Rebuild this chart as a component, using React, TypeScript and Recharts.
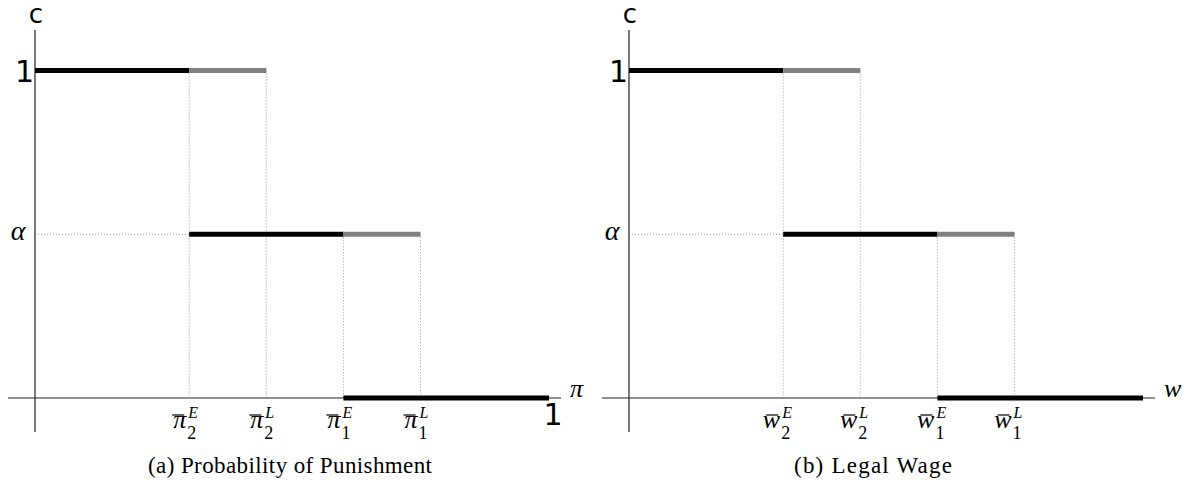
import React from 'react';
import { LineChart, Line, XAxis, YAxis, ReferenceLine } from 'recharts';

// Threshold positions on the horizontal axis, in order: x̄2^E, x̄2^L, x̄1^E, x̄1^L
const punishmentThresholds = [0.3, 0.45, 0.6, 0.75];
const wageThresholds = [0.3, 0.45, 0.6, 0.75];
const thresholdSubscripts = ['2', '2', '1', '1'];
const thresholdSuperscripts = ['E', 'L', 'E', 'L'];

// Levels of c
const cHigh = 1;
const alpha = 0.5;
const cLow = 0;
const xUnit = 1;
const yTickValues = [alpha, cHigh];
const yTickLabels = ['α', '1'];

// Visible extent of the axes around the origin
const X_DOMAIN: [number, number] = [-0.0525, 1.0233];
const Y_DOMAIN: [number, number] = [-0.1038, 1.1237];

const SERIF = "'Liberation Serif', 'DejaVu Serif', serif";
const SANS = "'DejaVu Sans', sans-serif";
const THICK = 5;
const BLACK = '#000000';
const GREY = '#808080';
const DOT = '#9a9a9a';

type Seg = { x0: number; x1: number; y: number };

function eagerSegments(t: number[]): Seg[] {
  return [
    { x0: 0, x1: t[0], y: cHigh },
    { x0: t[0], x1: t[2], y: alpha },
    { x0: t[2], x1: xUnit, y: cLow },
  ];
}

function lateSegments(t: number[]): Seg[] {
  return [
    { x0: t[0], x1: t[1], y: cHigh },
    { x0: t[2], x1: t[3], y: alpha },
  ];
}

function guideSegments(t: number[]) {
  return [
    [{ x: t[0], y: cHigh }, { x: t[0], y: cLow }],
    [{ x: t[1], y: cHigh }, { x: t[1], y: cLow }],
    [{ x: t[2], y: alpha }, { x: t[2], y: cLow }],
    [{ x: t[3], y: alpha }, { x: t[3], y: cLow }],
    [{ x: 0, y: alpha }, { x: t[0], y: alpha }],
  ];
}

function makeXTick(thresholds: number[], base: string, unitTick: boolean) {
  return (props: any) => {
    const { x, y, payload } = props;
    const i = thresholds.indexOf(payload.value);
    if (i < 0) {
      if (!unitTick) return <g />;
      return (
        <text x={x + 4} y={y - 7} textAnchor="middle" fontFamily={SANS} fontSize={30} fill="#000">
          1
        </text>
      );
    }
    return (
      <g>
        <text x={x - 3} y={y - 4} textAnchor="end" fontFamily={SERIF} fontStyle="italic" fontSize={26} fill="#000">
          {base}
        </text>
        <line x1={x - 17} x2={x - 5} y1={y - 17} y2={y - 17} stroke="#000" strokeWidth={1.2} />
        <text x={x - 2} y={y + 7} textAnchor="start" fontFamily={SERIF} fontSize={18} fill="#000">
          {thresholdSubscripts[i]}
        </text>
        <text x={x - 1} y={y - 14} textAnchor="start" fontFamily={SERIF} fontStyle="italic" fontSize={16} fill="#000">
          {thresholdSuperscripts[i]}
        </text>
      </g>
    );
  };
}

const YTick = (props: any) => {
  const { x, y, payload } = props;
  const i = yTickValues.indexOf(payload.value);
  if (i < 0) return <g />;
  if (yTickLabels[i] === '1') {
    return (
      <text x={x + 26} y={y + 11} textAnchor="end" fontFamily={SANS} fontSize={30} fill="#000">
        1
      </text>
    );
  }
  return (
    <text x={x + 10} y={y + 6} textAnchor="middle" fontFamily={SERIF} fontStyle="italic" fontSize={28} fill="#000">
      {yTickLabels[i]}
    </text>
  );
};

type PanelProps = {
  thresholds: number[];
  base: string;
  axisName: string;
  unitTick: boolean;
  left: number;
};

function Panel({ thresholds, base, axisName, unitTick, left }: PanelProps) {
  const black = eagerSegments(thresholds);
  const grey = lateSegments(thresholds);
  const guides = guideSegments(thresholds);
  const xTicks = unitTick ? [...thresholds, xUnit] : thresholds;
  const XTick = makeXTick(thresholds, base, unitTick);

  return (
    <div style={{ position: 'absolute', left, top: 0 }}>
      <LineChart width={590} height={495} margin={{ top: 30, right: 29, bottom: 33, left: 0 }}>
        <XAxis
          type="number"
          dataKey="x"
          domain={X_DOMAIN}
          allowDataOverflow
          ticks={xTicks}
          interval={0}
          height={30}
          axisLine={false}
          tickLine={false}
          tickSize={0}
          tickMargin={0}
          tick={XTick}
        />
        <YAxis
          type="number"
          dataKey="y"
          domain={Y_DOMAIN}
          allowDataOverflow
          ticks={yTickValues}
          interval={0}
          width={8}
          axisLine={false}
          tickLine={false}
          tickSize={0}
          tickMargin={0}
          tick={YTick}
        />
        {guides.map((seg, k) => (
          <ReferenceLine key={`g${k}`} segment={seg} stroke={DOT} strokeWidth={1} strokeDasharray="1 2" />
        ))}
        <ReferenceLine
          x={0}
          stroke="#222"
          strokeWidth={1.2}
          label={{
            content: (p: any) => (
              <text
                x={p.viewBox.x + 1}
                y={p.viewBox.y - 7}
                textAnchor="middle"
                fontFamily={SANS}
                fontSize={26}
                fill="#000"
              >
                c
              </text>
            ),
          }}
        />
        <ReferenceLine
          y={0}
          stroke="#222"
          strokeWidth={1.2}
          label={{
            content: (p: any) => (
              <text
                x={p.viewBox.x + p.viewBox.width + 9}
                y={p.viewBox.y - 1}
                textAnchor="start"
                fontFamily={SERIF}
                fontStyle="italic"
                fontSize={26}
                fill="#000"
              >
                {axisName}
              </text>
            ),
          }}
        />
        {black.map((s, k) => (
          <Line
            key={`b${k}`}
            data={[{ x: s.x0, y: s.y }, { x: s.x1, y: s.y }]}
            dataKey="y"
            stroke={BLACK}
            strokeWidth={THICK}
            dot={false}
            activeDot={false}
            isAnimationActive={false}
          />
        ))}
        {grey.map((s, k) => (
          <Line
            key={`l${k}`}
            data={[{ x: s.x0, y: s.y }, { x: s.x1, y: s.y }]}
            dataKey="y"
            stroke={GREY}
            strokeWidth={THICK}
            dot={false}
            activeDot={false}
            isAnimationActive={false}
          />
        ))}
      </LineChart>
    </div>
  );
}

export default function App() {
  return (
    <div style={{ position: 'absolute', left: 0, top: 0, width: 1189, height: 495, background: '#fff' }}>
      <Panel thresholds={punishmentThresholds} base="π" axisName="π" unitTick={true} left={0} />
      <Panel thresholds={wageThresholds} base="w" axisName="w" unitTick={false} left={594} />
      <svg width={1189} height={495} style={{ position: 'absolute', left: 0, top: 0, pointerEvents: 'none' }}>
        <text x={290} y={473} textAnchor="middle" fontFamily={SERIF} fontSize={23} textLength={284} lengthAdjust="spacing" fill="#000">
          (a) Probability of Punishment
        </text>
        <text x={873} y={473} textAnchor="middle" fontFamily={SERIF} fontSize={23} textLength={158} lengthAdjust="spacing" fill="#000">
          (b) Legal Wage
        </text>
      </svg>
    </div>
  );
}
